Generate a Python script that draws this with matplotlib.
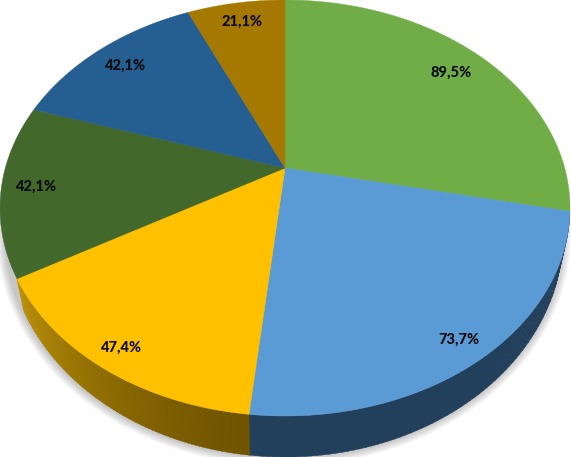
import numpy as np
import matplotlib
matplotlib.use("Agg")
import matplotlib.pyplot as plt
from matplotlib.patches import Ellipse

values = [89.5, 73.7, 47.4, 42.1, 42.1, 21.1]
top_colors = ["#70AD47", "#5B9BD5", "#FFC000", "#43682B", "#255E91", "#A57800"]
label_pos = [(451, 73), (459, 340), (121, 348), (36, 187), (125, 66), (242, 22)]

# top ellipse and the darker lower rim, in image pixels
cx, cy, rx, ry = 285.0, 208.0, 285.0, 208.0
low_cy, low_rx, low_ry = 235.0, 278.0, 222.0
tilt = 40.0 / 208.0


def project(theta):
    # perspective: the pie centre sits above the ellipse centre
    u = np.sin(theta)
    v = np.cos(theta)
    den = 1 + tilt * v
    return u * np.sqrt(1 - tilt ** 2) / den, (v + tilt) / den


def rim(theta):
    u, v = project(theta)
    return cx + rx * u, cy - ry * v


def low_rim(theta):
    u, v = project(theta)
    return cx + low_rx * u, low_cy - low_ry * v


def mix(c1, c2, t):
    c1 = np.array(matplotlib.colors.to_rgb(c1))
    c2 = np.array(matplotlib.colors.to_rgb(c2))
    return tuple(c1 + (c2 - c1) * t)


fig = plt.figure(figsize=(5.71, 4.57), dpi=100)
ax = fig.add_axes([0, 0, 1, 1])
ax.set_xlim(0, 571)
ax.set_ylim(457, 0)
ax.axis("off")

# soft shadow round the lower rim
for grow in np.arange(9, 0, -1.5):
    ax.add_patch(Ellipse((cx - 1, low_cy), 2 * (low_rx + grow), 2 * (low_ry + grow),
                         facecolor="#000000", edgecolor="none", alpha=0.04, zorder=1))

edges = np.cumsum([0] + values) / np.sum(values) * 2 * np.pi

# side walls, only the two front slices show one
side_styles = {1: ("#223F5B", "#223F5B"), 2: ("#BC9006", "#705400")}
for i, (c_start, c_end) in side_styles.items():
    steps = 80
    t = np.linspace(edges[i], edges[i + 1], steps + 1)
    for k in range(steps):
        seg = np.linspace(t[k], t[k + 1] + 0.002, 3)
        xa, ya = rim(seg)
        xb, yb = low_rim(seg)
        # edges[i] is the right hand end, so the gradient runs from the far end
        col = mix(c_end, c_start, (k / steps) ** 1.3)
        ax.fill(np.r_[xa, xb[::-1]], np.r_[ya, yb[::-1]], color=col, lw=0.3, zorder=2)

# top face
for i, col in enumerate(top_colors):
    t = np.linspace(edges[i], edges[i + 1], 120)
    x, y = rim(t)
    ax.fill(np.r_[cx, x], np.r_[cy - ry * tilt, y], color=col, lw=0.3, zorder=3)

for val, (lx, ly) in zip(values, label_pos):
    ax.text(lx, ly, f"{val:.1f}%".replace(".", ","), ha="center", va="center",
            family="Lato", fontweight="black", fontsize=10.5, color="#0A0A0A", zorder=4)

fig.savefig("out.png", dpi=100)
